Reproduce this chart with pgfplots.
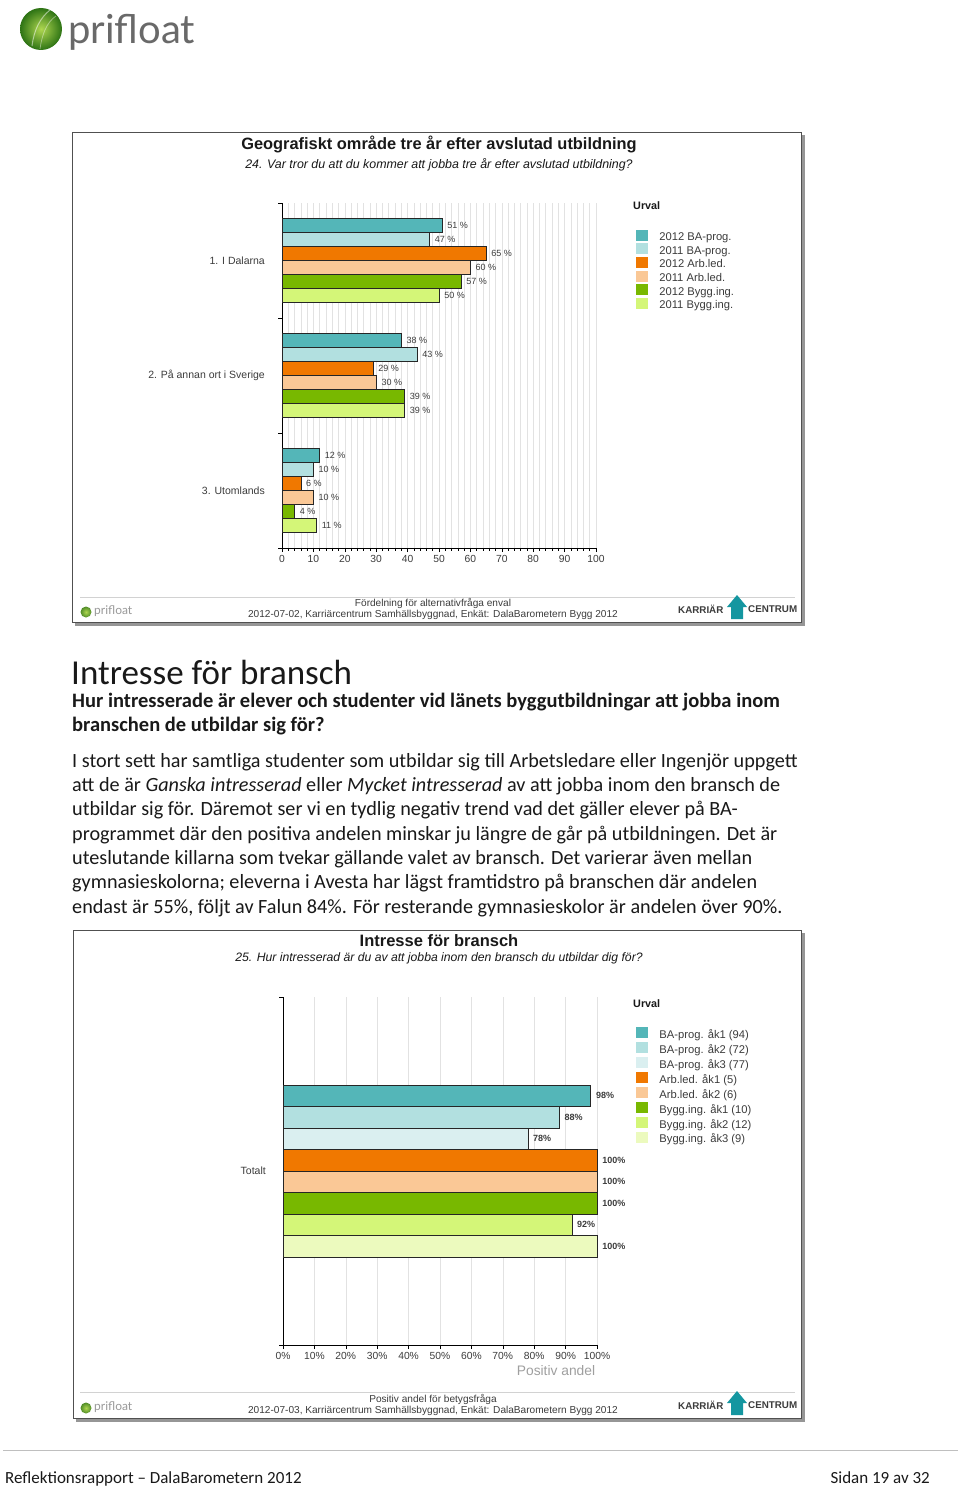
\documentclass[border=0pt]{standalone}
\usepackage{pgfplots}
\pgfplotsset{compat=1.18}
\usepackage{fontspec}
\setmainfont{Carlito}
\newfontfamily\arial{Liberation Sans}
\newfontfamily\logofont{Lato}
\newcommand\fs[1]{\fontsize{#1}{1.2\dimexpr#1pt\relax}\selectfont}

\definecolor{teal1}{RGB}{84,182,184}
\definecolor{teal2}{RGB}{178,224,224}
\definecolor{teal3}{RGB}{218,239,240}
\definecolor{orange1}{RGB}{240,120,0}
\definecolor{orange2}{RGB}{250,200,150}
\definecolor{green1}{RGB}{120,184,0}
\definecolor{green2}{RGB}{212,246,120}
\definecolor{green3}{RGB}{236,250,190}
\definecolor{gridgray}{RGB}{226,226,226}
\definecolor{framegray}{RGB}{80,80,80}
\definecolor{shadowgray}{RGB}{150,150,150}
\definecolor{txtgray}{RGB}{60,60,60}
\definecolor{bodytxt}{RGB}{25,25,25}
\definecolor{kcteal}{RGB}{20,150,160}

\pgfplotsset{
  survey/.style={
    scale only axis, xbar,
    xmin=0, xmax=100, y dir=reverse,
    axis x line*=bottom, axis y line*=left,
    axis line style={black, line width=0.8pt},
    tick align=outside,
    tick style={black, line width=0.6pt},
    grid style={gridgray, line width=0.6pt},
    xtick={0,10,...,100},
    yticklabel style={font=\arial\fs{10.5}, text=txtgray, inner sep=0pt},
    xticklabel style={font=\arial\fs{10.3}, text=txtgray},
    /pgf/number format/assume math mode=true,
    point meta=x,
    every axis plot/.append style={draw=black!85, line width=0.6pt},
    legend image code/.code={\fill[##1,draw=none] (0pt,-2.5pt) rectangle (12pt,8.5pt); \path (23pt,0pt);},
    legend style={anchor=north west, draw=none, fill=none,
      font=\arial\fs{11.2}, text=txtgray, inner sep=0pt, column sep=0pt,
      nodes={inner sep=0pt, text height=7pt, text depth=2pt}},
    legend cell align=left,
    clip=false,
  }
}

\begin{document}
\begin{tikzpicture}[x=1pt, y=-1pt]
\useasboundingbox (0,0) rectangle (960,1488);
\fill[white] (0,0) rectangle (960,1488);

% header logo
\shade[inner color={rgb,255:red,175;green,215;blue,80}, outer color={rgb,255:red,45;green,115;blue,20}] (41,29) circle (21);
\draw[white, opacity=0.5, line width=1pt] (32,46) .. controls (34,30) and (40,18) .. (50,10);
\draw[white, opacity=0.4, line width=0.8pt] (40,49) .. controls (42,34) and (47,22) .. (56,16);
\node[anchor=base west, inner sep=0, font=\logofont\fs{40}, text={rgb,255:red,105;green,105;blue,105}] at (68,44) {prifloat};

% ---------------- chart 1 frame ----------------
\fill[shadowgray] (75,135) rectangle (805,626);
\draw[framegray, fill=white, line width=1pt] (72,132) rectangle (801,622);
\node[font=\arial\bfseries\fs{16.4}, text=bodytxt] at (439,144) {Geografiskt område tre år efter avslutad utbildning};
\node[font=\arial\itshape\fs{12.4}, text=bodytxt] at (439,165) {24. Var tror du att du kommer att jobba tre år efter avslutad utbildning?};

\begin{axis}[survey,
  at={(282pt,-548pt)}, anchor=south west,
  width=314pt, height=345pt,
  bar width=14pt,
  ymin=0.5, ymax=3.5,
  minor x tick num=4,
  xmajorgrids, xminorgrids,
  major tick length=4pt, minor tick length=2.5pt,
  ytick={0.5,1.5,2.5,3.5}, yticklabels={},
  extra y ticks={1,2,3},
  extra y tick labels={1. I Dalarna, 2. På annan ort i Sverige, 3. Utomlands},
  extra y tick style={major tick length=0pt, yticklabel style={xshift=-17pt}},
  nodes near coords={\pgfmathprintnumber{\pgfplotspointmeta}~\%},
  nodes near coords style={font=\arial\fs{9}, text=txtgray, inner sep=1pt, xshift=4pt},
  legend style={at={(axis description cs:1.127,0.923)}, row sep=0.6pt},
]
\addplot[fill=teal1, bar shift=35pt] coordinates {(51,1) (38,2) (12,3)};
\addplot[fill=teal2, bar shift=21pt] coordinates {(47,1) (43,2) (10,3)};
\addplot[fill=orange1, bar shift=7pt] coordinates {(65,1) (29,2) (6,3)};
\addplot[fill=orange2, bar shift=-7pt] coordinates {(60,1) (30,2) (10,3)};
\addplot[fill=green1, bar shift=-21pt] coordinates {(57,1) (39,2) (4,3)};
\addplot[fill=green2, bar shift=-35pt] coordinates {(50,1) (39,2) (11,3)};
\legend{2012 BA-prog., 2011 BA-prog., 2012 Arb.led., 2011 Arb.led., 2012 Bygg.ing., 2011 Bygg.ing.}
\end{axis}
\node[anchor=west, inner sep=0, font=\arial\bfseries\fs{10.8}, text=bodytxt] at (633,206) {Urval};

% chart 1 footer
\draw[gray!35, line width=0.8pt] (80,597) -- (795,597);
\node[font=\arial\fs{10.1}, text=txtgray] at (433,603) {Fördelning för alternativfråga enval};
\node[font=\arial\fs{10.1}, text=txtgray] at (433,615) {2012-07-02, Karriärcentrum Samhällsbyggnad, Enkät: DalaBarometern Bygg 2012};
\shade[inner color={rgb,255:red,175;green,215;blue,80}, outer color={rgb,255:red,80;green,140;blue,40}] (86,612) circle (5.5);
\node[anchor=west, inner sep=0, font=\logofont\fs{12}, text=gray!80] at (94,611) {prifloat};
\node[anchor=west, inner sep=0, font=\arial\bfseries\fs{9.8}, text=txtgray] at (678,609) {KARRIÄR};
\fill[kcteal] (731,619) -- (731,607) -- (727,607) -- (737,595) -- (747,607) -- (743,607) -- (743,619) -- cycle;
\node[anchor=west, inner sep=0, font=\arial\bfseries\fs{9.8}, text=txtgray] at (748,609) {CENTRUM};

% ---------------- text block ----------------
\begin{scope}[every node/.style={anchor=base west, inner sep=0pt, text=bodytxt}]
\node[font=\fs{35}] at (71,684) {Intresse för bransch};
\node[font=\bfseries\fs{20.5}] at (72,707) {Hur intresserade är elever och studenter vid länets byggutbildningar att jobba inom};
\node[font=\bfseries\fs{20.5}] at (72,731) {branschen de utbildar sig för?};
\node[font=\fs{20.2}] at (72,767) {I stort sett har samtliga studenter som utbildar sig till Arbetsledare eller Ingenjör uppgett};
\node[font=\fs{20.2}] at (72,791) {att de är \textit{Ganska intresserad} eller \textit{Mycket intresserad} av att jobba inom den bransch de};
\node[font=\fs{20.2}] at (72,815) {utbildar sig för. Däremot ser vi en tydlig negativ trend vad det gäller elever på BA-};
\node[font=\fs{20.2}] at (72,840) {programmet där den positiva andelen minskar ju längre de går på utbildningen. Det är};
\node[font=\fs{20.2}] at (72,864) {uteslutande killarna som tvekar gällande valet av bransch. Det varierar även mellan};
\node[font=\fs{20.2}] at (72,888) {gymnasieskolorna; eleverna i Avesta har lägst framtidstro på branschen där andelen};
\node[font=\fs{20.2}] at (72,913) {endast är 55\%, följt av Falun 84\%. För resterande gymnasieskolor är andelen över 90\%.};
\end{scope}

% ---------------- chart 2 frame ----------------
\fill[shadowgray] (76,933) rectangle (805,1422);
\draw[framegray, fill=white, line width=1pt] (73,930) rectangle (801,1418);
\node[font=\arial\bfseries\fs{16.5}, text=bodytxt] at (439,941) {Intresse för bransch};
\node[font=\arial\itshape\fs{12.2}, text=bodytxt] at (439,958) {25. Hur intresserad är du av att jobba inom den bransch du utbildar dig för?};

\begin{axis}[survey,
  at={(283pt,-1345pt)}, anchor=south west,
  width=314pt, height=348pt,
  bar width=21.5pt,
  ymin=0.5, ymax=1.5,
  xmajorgrids,
  major tick length=4pt,
  xticklabel={\pgfmathprintnumber{\tick}\%},
  ytick={0.5,1.5}, yticklabels={},
  extra y ticks={1}, extra y tick labels={Totalt},
  extra y tick style={major tick length=0pt, yticklabel style={xshift=-17pt}},
  nodes near coords={\pgfmathprintnumber{\pgfplotspointmeta}\%},
  nodes near coords style={font=\arial\bfseries\fs{9}, text=txtgray, inner sep=1pt, xshift=4pt},
  legend style={at={(axis description cs:1.124,0.913)}, row sep=1.92pt},
]
\addplot[fill=teal1, bar shift=75.25pt] coordinates {(98,1)};
\addplot[fill=teal2, bar shift=53.75pt] coordinates {(88,1)};
\addplot[fill=teal3, bar shift=32.25pt] coordinates {(78,1)};
\addplot[fill=orange1, bar shift=10.75pt] coordinates {(100,1)};
\addplot[fill=orange2, bar shift=-10.75pt] coordinates {(100,1)};
\addplot[fill=green1, bar shift=-32.25pt] coordinates {(100,1)};
\addplot[fill=green2, bar shift=-53.75pt] coordinates {(92,1)};
\addplot[fill=green3, bar shift=-75.25pt] coordinates {(100,1)};
\legend{BA-prog. åk1 (94), BA-prog. åk2 (72), BA-prog. åk3 (77), Arb.led. åk1 (5), Arb.led. åk2 (6), Bygg.ing. åk1 (10), Bygg.ing. åk2 (12), Bygg.ing. åk3 (9)}
\end{axis}
\node[anchor=west, inner sep=0, font=\arial\bfseries\fs{10.8}, text=bodytxt] at (633,1004) {Urval};
\node[font=\arial\fs{13.8}, text=gray!75] at (556,1371) {Positiv andel};

% chart 2 footer
\draw[gray!35, line width=0.8pt] (80,1392) -- (795,1392);
\node[font=\arial\fs{10.1}, text=txtgray] at (433,1399) {Positiv andel för betygsfråga};
\node[font=\arial\fs{10.1}, text=txtgray] at (433,1411) {2012-07-03, Karriärcentrum Samhällsbyggnad, Enkät: DalaBarometern Bygg 2012};
\shade[inner color={rgb,255:red,175;green,215;blue,80}, outer color={rgb,255:red,80;green,140;blue,40}] (86,1408) circle (5.5);
\node[anchor=west, inner sep=0, font=\logofont\fs{12}, text=gray!80] at (94,1407) {prifloat};
\node[anchor=west, inner sep=0, font=\arial\bfseries\fs{9.8}, text=txtgray] at (678,1405) {KARRIÄR};
\fill[kcteal] (731,1415) -- (731,1403) -- (727,1403) -- (737,1391) -- (747,1403) -- (743,1403) -- (743,1415) -- cycle;
\node[anchor=west, inner sep=0, font=\arial\bfseries\fs{9.8}, text=txtgray] at (748,1405) {CENTRUM};

% page footer
\draw[gray!50, line width=0.8pt] (3,1450) -- (958,1450);
\node[anchor=base west, inner sep=0, font=\fs{17}, text=bodytxt] at (5,1483) {Reflektionsrapport – DalaBarometern 2012};
\node[anchor=base east, inner sep=0, font=\fs{17}, text=bodytxt] at (930,1483) {Sidan 19 av 32};
\end{tikzpicture}
\end{document}
